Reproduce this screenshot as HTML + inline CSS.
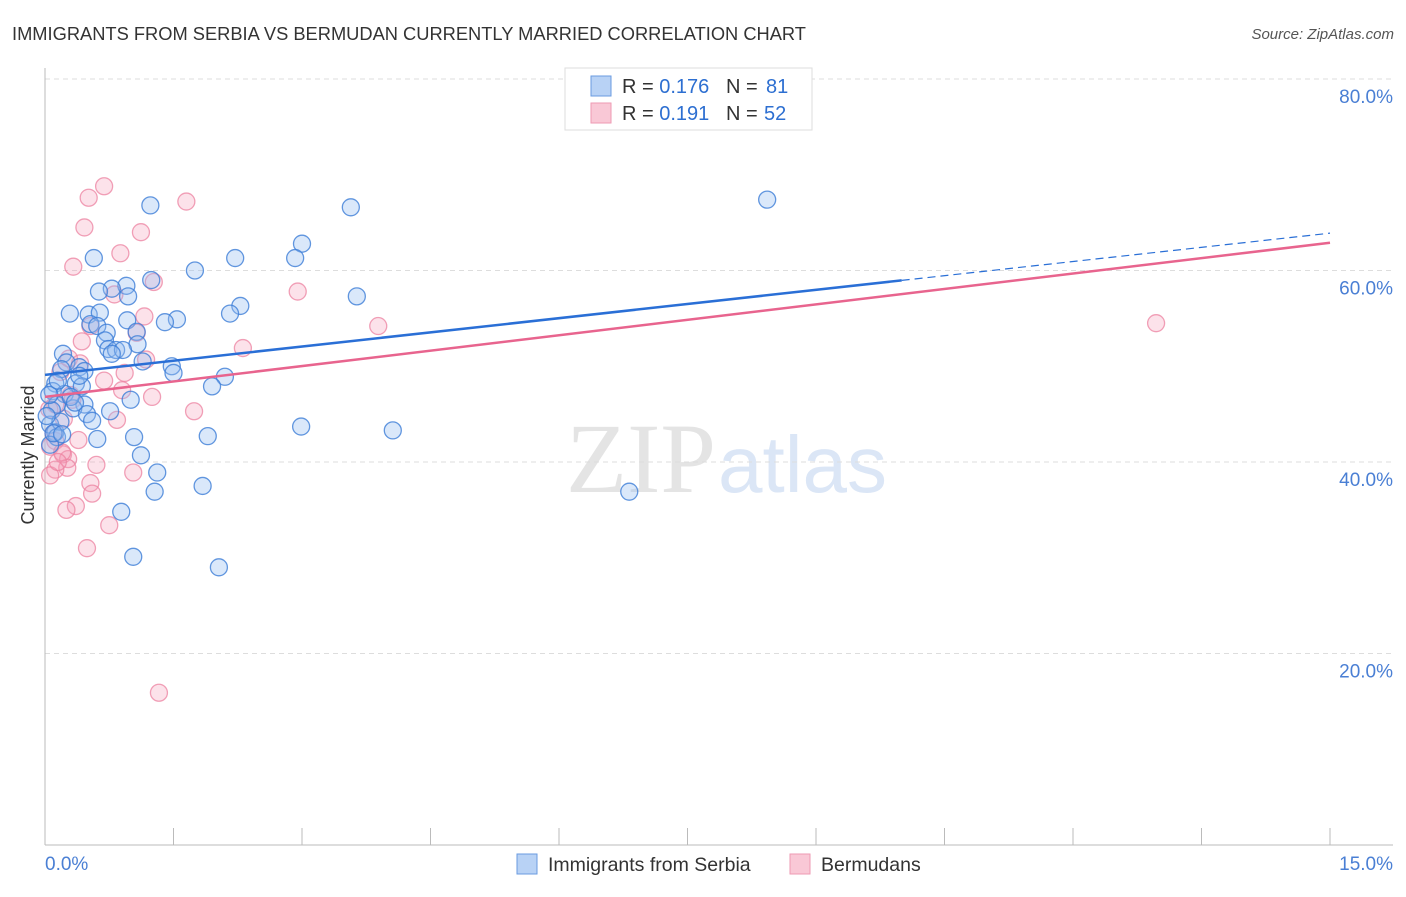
<!DOCTYPE html>
<html><head><meta charset="utf-8"><style>
body{margin:0;background:#fff;font-family:"Liberation Sans",sans-serif;}
</style></head><body>
<svg id="chart" width="1406" height="892" xmlns="http://www.w3.org/2000/svg">
<text x="12" y="40" font-size="18.3" fill="#333">IMMIGRANTS FROM SERBIA VS BERMUDAN CURRENTLY MARRIED CORRELATION CHART</text>
<text x="1394" y="39" font-size="15" fill="#555" font-style="italic" text-anchor="end">Source: ZipAtlas.com</text>
<text x="716" y="492" font-size="100" fill="#e4e4e4" text-anchor="end" font-family="Liberation Serif">ZIP</text>
<text x="718" y="492" font-size="80" fill="#dbe6f6">atlas</text>
<g id="grid"></g><g id="axes"></g><g id="pts"></g><g id="lines"></g>
<text x="34" y="455" font-size="18" fill="#333" text-anchor="middle" transform="rotate(-90 34 455)">Currently Married</text>
<g>
<rect x="565" y="68" width="247" height="62" fill="#fff" stroke="#ddd"/>
<rect x="591" y="76" width="20" height="20" fill="#b8d2f5" stroke="#6a9be0"/>
<rect x="591" y="103" width="20" height="20" fill="#f9c8d6" stroke="#ee9ab3"/>
<text x="622" y="93" font-size="20" fill="#333">R = <tspan fill="#2d6fd1">0.176</tspan><tspan x="726">N = </tspan><tspan fill="#2d6fd1" x="766">81</tspan></text>
<text x="622" y="120" font-size="20" fill="#333">R = <tspan fill="#2d6fd1">0.191</tspan><tspan x="726">N = </tspan><tspan fill="#2d6fd1" x="764">52</tspan></text>
</g>
<g>
<rect x="517" y="854" width="20" height="20" fill="#b8d2f5" stroke="#6a9be0"/>
<text x="548" y="871" font-size="19.5" fill="#333">Immigrants from Serbia</text>
<rect x="790" y="854" width="20" height="20" fill="#f9c8d6" stroke="#ee9ab3"/>
<text x="821" y="871" font-size="19.5" fill="#333">Bermudans</text>
</g>
</svg>
<script>
const xTicks=[0,1.5,3,4.5,6,7.5,9,10.5,12,13.5,15];
const yTicks=[20,40,60,80];
const yTickLabels=["20.0%","40.0%","60.0%","80.0%"];
const xEndLabels=["0.0%","15.0%"];
const serbiaX=[1.23,8.43,3.57,3.0,2.22,2.92,0.57,1.75,1.24,0.95,0.78,0.63,0.97,3.64,2.28,0.29,0.51,0.64,2.16,1.54,0.96,1.40,0.53,0.61,0.72,1.07,0.7,1.08,0.74,0.83,0.91,0.78,0.21,1.14,0.25,1.48,0.4,0.19,0.46,1.5,2.1,0.12,0.36,0.43,1.95,0.09,0.23,1.0,0.14,0.46,0.33,0.76,0.49,0.55,0.06,2.99,4.06,0.12,0.14,1.9,1.04,0.61,0.06,1.12,1.31,1.28,1.84,6.82,0.89,1.03,2.03,0.08,0.18,0.3,0.05,0.1,0.2,0.4,0.15,0.35,0.02];
const serbiaY=[66.8,67.4,66.6,62.8,61.3,61.3,61.3,60.0,59.0,58.4,58.1,57.8,57.3,57.3,56.3,55.5,55.4,55.6,55.5,54.9,54.8,54.6,54.4,54.2,53.5,53.6,52.7,52.3,51.8,51.7,51.7,51.3,51.3,50.5,50.4,50.0,49.9,49.7,49.5,49.3,48.9,48.2,48.2,47.9,47.9,47.4,47.1,46.5,46.0,46.0,45.6,45.3,45.0,44.3,43.9,43.7,43.3,43.1,42.6,42.7,42.6,42.4,41.8,40.7,38.9,36.9,37.5,36.9,34.8,30.1,29.0,45.4,44.2,46.8,47.0,43.0,42.9,49.0,48.5,46.2,44.8];
const bermX=[0.69,1.65,0.51,0.46,1.12,0.88,0.33,1.27,0.81,2.95,1.16,3.89,12.97,0.53,1.07,0.43,2.31,0.28,1.18,0.41,0.18,0.93,0.69,0.9,1.25,0.32,0.12,1.74,0.84,0.22,0.39,0.12,0.06,0.21,0.27,0.6,0.26,0.12,1.03,0.53,0.55,0.36,0.25,0.75,0.49,1.33,0.06,0.1,0.2,0.05,0.3,0.15];
const bermY=[68.8,67.2,67.6,64.5,64.0,61.8,60.4,58.8,57.5,57.8,55.2,54.2,54.5,54.2,53.5,52.6,51.9,50.8,50.7,50.3,49.4,49.3,48.5,47.5,46.8,46.5,46.0,45.3,44.4,44.5,42.3,42.2,41.6,40.8,40.3,39.7,39.4,39.2,38.9,37.8,36.7,35.4,35.0,33.4,31.0,15.9,38.6,43.0,41.0,45.5,47.0,40.0];
const serbiaLine=[49.1,63.9], serbiaSolidEnd=10.0;
const bermLine=[46.8,62.9];
const NS="http://www.w3.org/2000/svg";
const X=v=>45+v/15*1285, Y=v=>845-v*9.575;
function mk(tag,attrs,parent){const e=document.createElementNS(NS,tag);for(const k in attrs)e.setAttribute(k,attrs[k]);document.getElementById(parent).appendChild(e);return e;}
yTicks.forEach((t,i)=>{
 const l=mk('line',{x1:45,x2:1393,y1:Y(t),y2:Y(t),stroke:'#ddd','stroke-dasharray':'5,4'},'grid');
 
 
 const tx=mk('text',{x:1393,y:Y(t)+24,'font-size':19,fill:'#4a7fd4','text-anchor':'end'},'axes');tx.textContent=yTickLabels[i];
 
 
});
const topGrid=mk('line',{x1:45,x2:1393,y1:79,y2:79,stroke:'#ddd','stroke-dasharray':'5,4'},'grid');


const ya=mk('line',{x1:45,x2:45,y1:68,y2:845,stroke:'#bbb'},'axes');


const xa=mk('line',{x1:45,x2:1393,y1:845,y2:845,stroke:'#bbb'},'axes');


xTicks.forEach(t=>{const l=mk('line',{x1:X(t),x2:X(t),y1:828,y2:845,stroke:'#bbb'},'axes');
 
 });
const xl0=mk('text',{x:45,y:870,'font-size':19,fill:'#4a7fd4'},'axes');xl0.textContent=xEndLabels[0];


const xl1=mk('text',{x:1393,y:870,'font-size':19,fill:'#4a7fd4','text-anchor':'end'},'axes');xl1.textContent=xEndLabels[1];


bermX.forEach((x,i)=>{const c=mk('circle',{cx:X(x),cy:Y(bermY[i]),r:8.5,fill:'rgba(244,160,185,0.3)',stroke:'rgba(236,130,160,0.75)','stroke-width':1.3},'pts');
 
 });
serbiaX.forEach((x,i)=>{const c=mk('circle',{cx:X(x),cy:Y(serbiaY[i]),r:8.5,fill:'rgba(150,190,240,0.35)',stroke:'rgba(60,125,215,0.8)','stroke-width':1.3},'pts');
 
 });
const sy=x=>serbiaLine[0]+(serbiaLine[1]-serbiaLine[0])*x/15;
const l1=mk('line',{x1:X(0),y1:Y(sy(0)),x2:X(serbiaSolidEnd),y2:Y(sy(serbiaSolidEnd)),stroke:'#2a6fd6','stroke-width':2.5},'lines');


const l2=mk('line',{x1:X(serbiaSolidEnd),y1:Y(sy(serbiaSolidEnd)),x2:X(15),y2:Y(sy(15)),stroke:'#2a6fd6','stroke-width':1.2,'stroke-dasharray':'8,5'},'lines');


const l3=mk('line',{x1:X(0),y1:Y(bermLine[0]),x2:X(15),y2:Y(bermLine[1]),stroke:'#e8648e','stroke-width':2.5},'lines');


</script>
</body></html>
